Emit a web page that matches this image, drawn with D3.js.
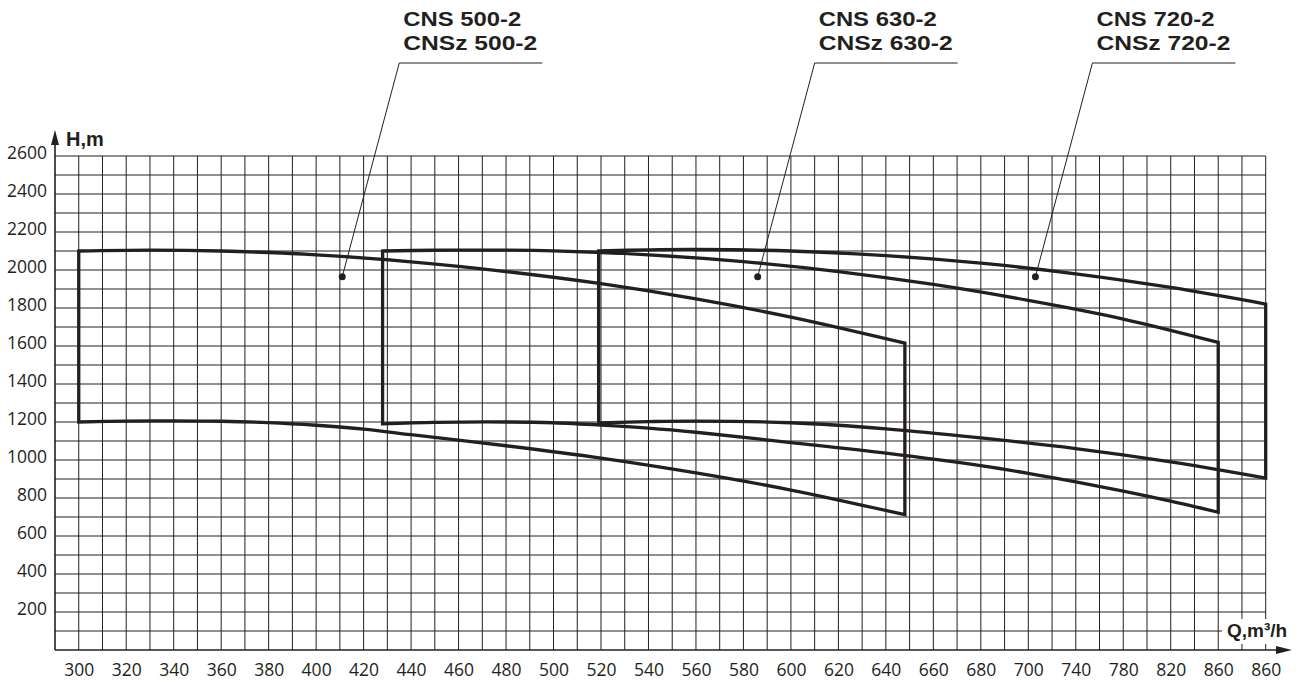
<!DOCTYPE html>
<html>
<head>
<meta charset="utf-8">
<script src="https://cdn.jsdelivr.net/npm/d3@7/dist/d3.min.js"></script>
<style>
  html, body { margin: 0; padding: 0; background: #fff; }
  svg { display: block; }
</style>
</head>
<body>
<svg id="chart" width="1305" height="682"></svg>
<script>
// pump working fields, Q (m3/h) vs H (m)
var xTicks = [300, 320, 340, 360, 380, 400, 420, 440, 460, 480, 500, 520, 540, 560, 580, 600, 620, 640, 660, 680, 700, 720, 740, 760, 780, 800]
var xTickLabels = ['300', '320', '340', '360', '380', '400', '420', '440', '460', '480', '500', '520', '540', '560', '580', '600', '620', '640', '660', '680', '700', '740', '780', '820', '860', '860']
var yTicks = [200, 400, 600, 800, 1000, 1200, 1400, 1600, 1800, 2000, 2200, 2400, 2600]

var cns500Top = [[300, 2100], [330, 2105], [360, 2100], [400, 2080], [440, 2043], [480, 1992], [520, 1928], [560, 1848], [600, 1752], [648, 1615]]
var cns500Bottom = [[300, 1200], [320, 1205], [340, 1206], [360, 1204], [380, 1197], [400, 1183], [420, 1163], [440, 1133], [480, 1075], [520, 1010], [560, 932], [600, 842], [648, 712]]
var cns630Top = [[428, 2100], [450, 2104], [470, 2105], [500, 2101], [540, 2080], [580, 2044], [620, 1992], [660, 1924], [700, 1840], [740, 1742], [780, 1619]]
var cns630Bottom = [[428, 1190], [450, 1198], [480, 1200], [500, 1196], [520, 1184], [540, 1168], [560, 1146], [600, 1092], [640, 1036], [680, 970], [700, 930], [720, 885], [740, 836], [760, 783], [780, 725]]
var cns720Top = [[519, 2100], [540, 2106], [560, 2108], [600, 2100], [640, 2076], [680, 2036], [720, 1980], [760, 1908], [800, 1821]]
var cns720Bottom = [[519, 1195], [540, 1202], [560, 1205], [600, 1196], [640, 1164], [680, 1116], [720, 1060], [760, 990], [800, 905]]

var labelNames = [['CNS 500-2', 'CNSz 500-2'], ['CNS 630-2', 'CNSz 630-2'], ['CNS 720-2', 'CNSz 720-2']]
var labelDots = [[411, 1965], [586, 1965], [703, 1965]]

var ink = '#231f20'
var svg = d3.select('#chart')

var x = d3.scaleLinear().domain([290, 800]).range([55, 1265.7])
var y = d3.scaleLinear().domain([0, 2600]).range([650, 156])

// grid
var grid = svg.append('g')
grid.selectAll('line.v').data(d3.range(300, 801, 10)).enter().append('line')
    .attr('class', 'v')
    .attr('x1', function(d) { return x(d) })
    .attr('x2', function(d) { return x(d) })
    .attr('y1', y(0))
    .attr('y2', y(2600))
    .attr('stroke', ink)
    .attr('stroke-width', 1)
grid.selectAll('line.h').data(d3.range(100, 2601, 100)).enter().append('line')
    .attr('class', 'h')
    .attr('x1', x(290))
    .attr('x2', x(800))
    .attr('y1', function(d) { return y(d) })
    .attr('y2', function(d) { return y(d) })
    .attr('stroke', ink)
    .attr('stroke-width', 1)

// axes lines with arrows
svg.append('line')
    .attr('x1', x(290)).attr('y1', y(0))
    .attr('x2', x(290)).attr('y2', 140)
    .attr('stroke', ink).attr('stroke-width', 1.6)
svg.append('path')
    .attr('d', 'M' + x(290) + ',130 L' + (x(290) - 4) + ',145 L' + (x(290) + 4) + ',145 Z')
    .attr('fill', ink)
svg.append('line')
    .attr('x1', x(290)).attr('y1', y(0))
    .attr('x2', 1282).attr('y2', y(0))
    .attr('stroke', ink).attr('stroke-width', 1.6)
svg.append('path')
    .attr('d', 'M1292,' + y(0) + ' L1276,' + (y(0) - 4) + ' L1276,' + (y(0) + 4) + ' Z')
    .attr('fill', ink)

var fontTicks = '"Open Sans", "DejaVu Sans", sans-serif'
var fontBold = '"Liberation Sans", Arial, sans-serif'

var xAxis = svg.append('g')
    .attr('transform', 'translate(0,' + y(0) + ')')
    .call(d3.axisBottom(x).tickValues(xTicks).tickSize(0)
        .tickFormat(function(d, i) { return xTickLabels[i] }))
xAxis.select('.domain').remove()
xAxis.selectAll('line').remove()
xAxis.selectAll('text')
    .attr('y', 26).attr('dy', 0)
    .attr('fill', ink)
    .style('font-family', fontTicks)
    .style('font-size', '17.5px')

var yAxis = svg.append('g')
    .attr('transform', 'translate(' + x(290) + ',0)')
    .call(d3.axisLeft(y).tickValues(yTicks).tickSize(0).tickPadding(8)
        .tickFormat(function(d) { return String(d) }))
yAxis.select('.domain').remove()
yAxis.selectAll('line').remove()
yAxis.selectAll('text')
    .attr('dy', 2)
    .attr('fill', ink)
    .style('font-family', fontTicks)
    .style('font-size', '17.5px')

// axis titles
svg.append('text')
    .attr('x', 66).attr('y', 146)
    .attr('fill', ink)
    .style('font-family', fontBold).style('font-weight', 'bold').style('font-size', '20px')
    .text('H,m')
svg.append('rect')
    .attr('x', 1222).attr('y', 619).attr('width', 70).attr('height', 25)
    .attr('fill', '#fff')
svg.append('text')
    .attr('x', 1227).attr('y', 637)
    .attr('fill', ink)
    .style('font-family', fontBold).style('font-weight', 'bold').style('font-size', '19px')
    .text('Q,m³/h')

// working fields
var curve = d3.line()
    .x(function(d) { return x(d[0]) })
    .y(function(d) { return y(d[1]) })
    .curve(d3.curveCatmullRom)

var fields = [[cns500Top, cns500Bottom], [cns630Top, cns630Bottom], [cns720Top, cns720Bottom]]
fields.forEach(function(f) {
    var top = f[0]
    var bottom = f[1].slice().reverse()
    var d = curve(top) + curve(bottom).replace(/^M/, 'L') + 'Z'
    svg.append('path')
        .attr('d', d)
        .attr('fill', 'none')
        .attr('stroke', ink)
        .attr('stroke-width', 3.3)
        .attr('stroke-linejoin', 'miter')
})

// labels with leaders
labelDots.forEach(function(p, i) {
    var cx = x(p[0])
    var cy = y(p[1])
    var lx = cx + 57
    svg.append('circle')
        .attr('cx', cx).attr('cy', cy).attr('r', 3.5)
        .attr('fill', ink)
    svg.append('line')
        .attr('x1', cx).attr('y1', cy)
        .attr('x2', lx).attr('y2', 63)
        .attr('stroke', ink).attr('stroke-width', 1)
    svg.append('line')
        .attr('x1', lx).attr('y1', 63)
        .attr('x2', lx + 143).attr('y2', 63)
        .attr('stroke', ink).attr('stroke-width', 1)
    labelNames[i].forEach(function(s, j) {
        svg.append('text')
            .attr('x', lx + 4).attr('y', 26 + j * 24)
            .attr('fill', ink)
            .attr('textLength', j == 0 ? 118 : 134)
            .attr('lengthAdjust', 'spacingAndGlyphs')
            .style('font-family', fontBold).style('font-weight', 'bold').style('font-size', '20px')
            .text(s)
    })
})
</script>
</body>
</html>
